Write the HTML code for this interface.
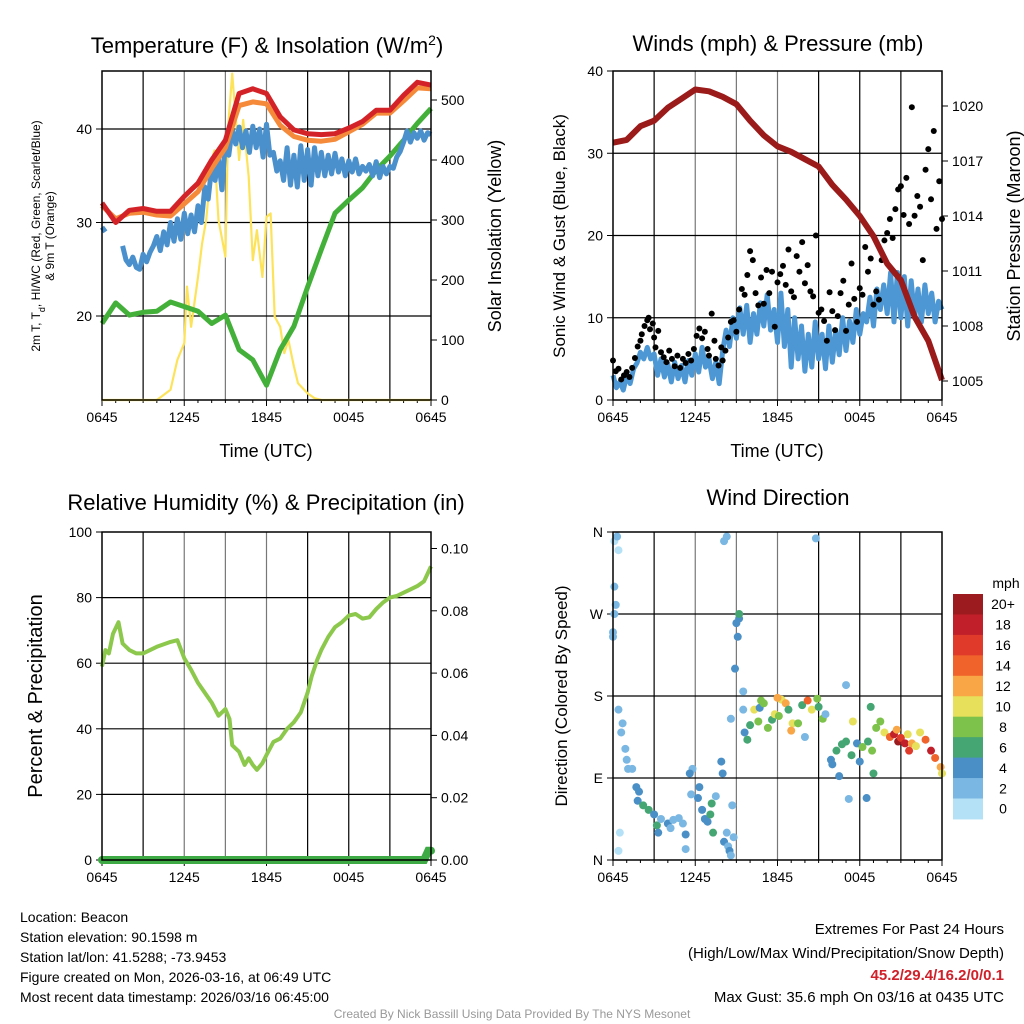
<!DOCTYPE html>
<html><head><meta charset="utf-8"><style>
html,body{margin:0;padding:0;background:#fff;}
svg{display:block;font-family:"Liberation Sans",Arial,sans-serif;}
</style></head><body>
<svg id="s" width="1024" height="1024" viewBox="0 0 1024 1024" xmlns="http://www.w3.org/2000/svg">
<text x="267" y="53" font-size="22" text-anchor="middle">Temperature (F) &amp; Insolation (W/m<tspan baseline-shift="super" font-size="14">2</tspan>)</text>
<text x="778" y="51" font-size="22" text-anchor="middle">Winds (mph) &amp; Pressure (mb)</text>
<text x="266" y="510" font-size="22" text-anchor="middle">Relative Humidity (%) &amp; Precipitation (in)</text>
<text x="778" y="505" font-size="22" text-anchor="middle">Wind Direction</text>
<text x="266" y="457" font-size="18" text-anchor="middle">Time (UTC)</text>
<text x="777" y="457" font-size="18" text-anchor="middle">Time (UTC)</text>
<text transform="translate(40,236) rotate(-90)" font-size="12" text-anchor="middle">2m T, T<tspan baseline-shift="sub" font-size="9">d</tspan>, HI/WC (Red, Green, Scarlet/Blue)</text>
<text transform="translate(54,236) rotate(-90)" font-size="12" text-anchor="middle">&amp; 9m T (Orange)</text>
<text transform="translate(501,236) rotate(-90)" font-size="18" text-anchor="middle">Solar Insolation (Yellow)</text>
<text transform="translate(565,236) rotate(-90)" font-size="17" text-anchor="middle">Sonic Wind &amp; Gust (Blue, Black)</text>
<text transform="translate(1020,236) rotate(-90)" font-size="18" text-anchor="middle">Station Pressure (Maroon)</text>
<text transform="translate(42,696) rotate(-90)" font-size="20" text-anchor="middle">Percent &amp; Precipitation</text>
<text transform="translate(567,696) rotate(-90)" font-size="17" text-anchor="middle">Direction (Colored By Speed)</text>
<g font-size="14">
<text x="20" y="922">Location: Beacon</text>
<text x="20" y="942">Station elevation: 90.1598 m</text>
<text x="20" y="962">Station lat/lon: 41.5288; -73.9453</text>
<text x="20" y="982">Figure created on Mon, 2026-03-16, at 06:49 UTC</text>
<text x="20" y="1002">Most recent data timestamp: 2026/03/16 06:45:00</text>
</g>
<g font-size="15" text-anchor="end">
<text x="1004" y="934">Extremes For Past 24 Hours</text>
<text x="1004" y="958">(High/Low/Max Wind/Precipitation/Snow Depth)</text>
<text x="1004" y="980" fill="#d0202a" font-weight="bold">45.2/29.4/16.2/0/0.1</text>
<text x="1004" y="1002">Max Gust: 35.6 mph On 03/16 at 0435 UTC</text>
</g>
<text x="512" y="1018" font-size="12" fill="#999" text-anchor="middle">Created By Nick Bassill Using Data Provided By The NYS Mesonet</text>
</svg>
<script>
// ---------- data ----------
const hours = [0,1,2,3,4,5,6,7,8,9,10,11,12,13,14,15,16,17,18,19,20,21,22,23,24];
const tempRed = [32.1,30,31.3,31.5,31.2,31.2,32.8,34.2,36.7,38.8,43.8,44.3,43.8,41.3,39.9,39.5,39.4,39.5,40.1,40.8,42,42,43.6,45,44.7];
const tempOrange = [31.8,30.4,31.0,31.1,30.8,30.7,32.0,33.3,35.8,38.0,42.5,42.9,42.7,40.4,39.2,38.8,38.7,38.9,39.7,40.5,41.7,41.7,43.0,44.4,44.3];
const dewGreen = [19.2,21.4,20.1,20.4,20.5,21.5,21.0,20.5,19.2,20.1,16.4,15.3,12.6,16.4,18.9,23.1,27.1,31.0,32.4,33.7,35.6,37.1,38.8,40.6,42.2];
const quarterHours = Array.from({length:97},(_,i)=>i/4);
const tempBlue = [29.5,29.0,null,null,null,null,27.5,26.0,25.5,26.3,25.2,25.0,26.6,25.8,26.8,27.5,28.5,27.0,29.0,27.6,30.0,28.0,30.4,28.2,31.0,28.8,30.8,29.0,31.8,30.0,33.8,32.5,36.0,34.5,37.0,33.5,38.5,37.2,40.0,38.4,40.2,38.0,39.8,37.5,40.3,38.0,40.0,37.0,40.5,37.2,37.5,35.5,36.6,34.5,38.0,34.0,37.2,33.8,38.2,34.5,37.8,34.0,38.0,35.0,37.5,35.0,37.2,35.2,37.4,35.4,36.8,35.0,36.6,35.4,36.8,35.2,36.0,35.5,36.2,35.0,36.5,34.8,36.0,35.2,36.0,35.8,37.0,37.6,38.6,39.8,38.6,39.6,39.0,39.8,38.8,39.6,39.4];
const solarTimes = [0,4,4.3,5,5.5,6,6.2,6.5,7,7.3,7.6,8,8.2,8.5,9,9.2,9.5,10,10.3,10.7,11,11.3,11.7,12,12.3,12.6,13,13.3,13.6,14,14.3,15,15.5,16,24];
const solarVals = [0,0,5,17,67,95,189,122,205,261,300,400,416,300,239,455,544,400,467,372,233,283,205,305,311,139,122,78,100,56,28,11,3,0,0];
const pressure = [1018.0,1018.15,1018.9,1019.2,1019.9,1020.4,1020.9,1020.8,1020.5,1020.1,1019.2,1018.4,1017.8,1017.5,1017.1,1016.7,1015.7,1014.9,1014.0,1012.9,1011.4,1010.5,1008.5,1007.2,1005.05];
const windSpeed = [3.0,1.5,2.2,1.2,3.0,2.0,3.8,4.5,5.8,5.0,6.4,5.0,5.6,3.0,5.0,2.8,4.4,2.2,4.6,2.6,4.2,2.2,4.8,3.0,5.6,3.4,6.4,4.0,5.0,2.6,4.6,2.0,6.0,8.5,6.5,10.0,7.5,11.2,8.0,11.5,7.0,10.5,8.0,11.8,9.0,12.8,8.5,11.0,7.0,13.0,6.5,11.0,4.0,10.0,5.0,9.0,3.5,8.0,4.0,9.5,5.0,8.0,3.8,9.0,4.6,8.5,5.5,10.0,6.0,9.6,7.0,11.0,8.0,10.5,9.5,12.5,9.0,13.5,11.0,14.0,10.5,15.5,9.5,15.5,10.0,15.0,9.0,14.5,10.0,13.5,9.5,14.0,10.5,13.0,9.5,12.0,11.0];
const gustTimes = [0,0.2,0.4,0.6,0.8,1.0,1.2,1.4,1.6,1.8,2.0,2.1,2.3,2.5,2.6,2.7,2.9,3.0,3.1,3.3,3.5,3.7,3.9,4.1,4.3,4.5,4.7,4.9,5.1,5.3,5.5,5.7,5.9,6.1,6.3,6.5,6.7,6.9,7.0,7.2,7.4,7.5,7.7,7.9,8.0,8.2,8.4,8.6,8.8,9.0,9.2,9.4,9.6,9.8,10.0,10.2,10.4,10.6,10.8,11.0,11.2,11.4,11.6,11.8,12.0,12.2,12.4,12.6,12.8,13.0,13.2,13.4,13.6,13.8,14.0,14.2,14.4,14.6,14.8,15.0,15.2,15.4,15.6,15.8,16.0,16.2,16.4,16.6,16.8,17.0,17.2,17.4,17.6,17.8,18.0,18.2,18.4,18.6,18.8,19.0,19.2,19.4,19.6,19.8,20.0,20.2,20.4,20.6,20.8,21.0,21.2,21.4,21.6,21.8,22.0,22.2,22.4,22.6,22.8,23.0,23.2,23.4,23.6,23.8,24.0];
const gustVals = [4.8,3.5,3.8,2.5,3.0,3.4,2.8,3.9,5.1,6.5,7.2,8.0,9.0,9.7,10.0,8.6,9.3,7.6,6.4,8.4,5.8,5.2,4.6,6.0,5.0,4.1,5.4,3.9,5.0,4.5,5.6,4.8,6.2,7.8,8.7,7.5,8.3,6.2,5.4,10.5,7.2,5.0,4.2,6.4,4.8,6.0,7.6,9.5,9.7,8.3,11.0,13.5,12.8,15.2,18.1,17.0,13.0,11.5,14.9,11.7,15.8,13.0,15.6,8.9,14.3,15.3,16.3,14.0,18.3,13.2,12.5,17.5,15.6,19.2,14.2,16.4,13.2,12.6,20.0,10.6,11.0,9.6,7.2,13.1,10.8,8.5,10.2,13.0,14.5,8.4,11.6,16.6,12.3,9.5,13.6,12.8,18.6,15.6,17.2,11.6,13.2,12.2,17.0,19.4,20.3,22.0,19.7,23.2,25.6,26.0,22.5,27.0,21.4,35.6,22.4,24.8,23.5,17.0,28.0,30.5,24.4,32.7,20.8,26.6,22.0];
const dirTimes = [0.1,0.3,0.4,0.1,0.2,0.1,0.0,0.0,0.4,0.7,0.6,0.9,1.0,1.1,1.4,1.7,1.9,1.8,2.2,2.6,3.0,3.2,3.5,3.3,4.0,4.2,4.4,4.8,5.1,5.3,5.3,0.5,0.4,5.7,5.8,5.6,6.2,6.5,6.3,6.7,6.9,7.1,7.2,7.3,7.5,7.9,8.0,8.3,8.1,8.4,8.5,8.6,8.8,8.7,8.1,8.3,9.0,9.2,9.1,9.2,8.9,8.6,9.5,9.6,9.8,10.0,10.3,10.7,11.0,10.6,11.3,11.6,11.8,12.1,12.3,12.6,12.8,13.1,13.5,13.8,14.2,14.5,14.9,15.0,15.3,14.0,15.5,15.9,16.3,16.7,16.0,16.5,17.0,17.4,17.8,18.0,18.2,18.6,18.9,19.2,19.5,19.8,20.2,20.5,20.8,21.0,21.3,21.6,21.8,22.1,22.4,22.8,23.2,23.5,23.9,24.0,17.2,18.5,17.5,20.7,21.5,19.0,18.8,13.0,12.0,10.8,14.8,9.5,17.0];
const dirDeg = [350,355,340,300,280,270,250,245,165,150,140,122,110,100,100,80,75,65,60,55,50,38,45,30,40,35,44,46,40,28,12,30,10,72,100,95,68,55,80,45,42,50,62,30,70,108,95,30,20,15,10,5,25,60,350,355,260,265,245,270,210,155,165,140,132,148,165,167,172,152,145,154,160,158,176,172,165,150,150,170,175,165,177,168,155,135,160,110,120,127,105,92,130,115,128,108,124,130,120,145,152,140,135,138,130,134,128,120,128,125,140,132,120,112,102,95,67,68,152,143,138,95,168,142,178,175,353,185,192];
const dirSpeed = [1,2,0,2,2,2,3,2,2,2,2,2,2,2,2,4,4,4,6,6,4,6,2,4,4,2,2,2,2,4,2,0,0,2,2,4,4,4,4,4,4,6,6,6,2,4,4,2,4,2,4,2,2,2,2,2,4,4,4,6,4,2,2,4,6,6,10,4,8,8,8,6,10,8,10,12,6,10,8,6,14,10,8,6,8,2,2,4,6,6,4,4,6,6,4,4,8,6,8,8,8,10,14,18,20,16,18,16,12,10,10,14,18,14,12,10,2,4,10,12,10,6,6,12,12,8,2,2,2];
const rhTimes = [0,0.25,0.5,0.8,1.2,1.5,2,2.5,3,4,5,5.5,6,6.5,7,7.5,8,8.5,9,9.3,9.5,10,10.4,10.7,11,11.3,11.7,12,12.5,13,13.5,14,14.5,15,15.3,15.7,16,16.5,17,17.5,18,18.5,19,19.5,20,20.5,21,21.5,22,22.5,23,23.5,24];
const rhVals = [59,64,63,69,72.5,66,64,63,63,65,66.5,67,61.5,58,54,51,48,44,46,43,35,33,29,31,29,27.5,29.5,32,36,37,40,42,45,51,56,61,64,68,71,72.5,74.5,75,73.6,74,76.5,78.5,80,80.5,81.5,82.5,83.5,85,89.5];
const precipTimes = [0,23.5,23.8,24];
const precipVals = [0,0,0.003,0.003];
const xTickLabels = ["0645","1245","1845","0045","0645"];
const tempTicks = [20,30,40];
const solarTicks = [0,100,200,300,400,500];
const windTicks = [0,10,20,30,40];
const presTicks = [1005,1008,1011,1014,1017,1020];
const rhTicks = [0,20,40,60,80,100];
const precipTicks = [0,0.02,0.04,0.06,0.08,0.10];
const dirTicks = [0,90,180,270,360];
const dirLabels = ["N","E","S","W","N"];
const speedBins = ["0","2","4","6","8","10","12","14","16","18","20+"];
const binColors = ["#b5e1f7","#7ab7e2","#4a8fc6","#46a673","#7dc24a","#e6e05a","#f8a646","#f0642b","#e03a2b","#c1202b","#9b1b1e"];

// ---------- helpers ----------
const svg = document.getElementById('s');
const NS = 'http://www.w3.org/2000/svg';
function mk(tag, attrs, parent){const e=document.createElementNS(NS,tag);for(const k in attrs)e.setAttribute(k,attrs[k]);(parent||svg).appendChild(e);return e;}
function lin(d0,d1,r0,r1){return v=>r0+(v-d0)*(r1-r0)/(d1-d0);}
function pathFrom(xs,ys,fx,fy){let d='',pen=false;for(let i=0;i<xs.length;i++){if(ys[i]===null){pen=false;continue;}d+=(pen?'L':'M')+fx(xs[i]).toFixed(1)+','+fy(ys[i]).toFixed(1);pen=true;}return d;}

function panel(name,L,T,R,B,hLines){
  const g=mk('g',{});
  
  
  const fx=lin(0,24,L,R);
  for(let h=3;h<24;h+=3){const l=mk('line',{x1:fx(h),x2:fx(h),y1:T,y2:B,stroke:((h>=6&&h<=12)?'#777':'#000'),'stroke-width':1.2},g);
    
    }
  hLines.forEach(y=>{const l=mk('line',{x1:L,x2:R,y1:y,y2:y,stroke:'#000','stroke-width':1.2},g);
    
    });
  xTickLabels.forEach((t,i)=>{const x=fx(i*6);
    mk('line',{x1:x,x2:x,y1:B,y2:B+6,stroke:'#000'},g);
    const tx=mk('text',{x:x,y:B+22,'font-size':14,'text-anchor':'middle'},g);tx.textContent=t;
    
    });
  for(let h=1;h<24;h++){if(h%6)mk('line',{x1:fx(h),x2:fx(h),y1:B,y2:B+3,stroke:'#000'},g);}
  return {g,fx};
}
function yTicks(g,ticks,fy,x,side,fmt,size){
  ticks.forEach(v=>{const y=fy(v);
    mk('line',{x1:x,x2:x+(side<0?-6:6),y1:y,y2:y,stroke:'#000'},g);
    const t=mk('text',{x:x+(side<0?-10:10),y:y+5,'font-size':size||14,'text-anchor':side<0?'end':'start'},g);t.textContent=fmt?fmt(v):v;
    
    });
}
function frame(g,L,T,R,B){const r=mk('rect',{x:L,y:T,width:R-L,height:B-T,fill:'none',stroke:'#000','stroke-width':1.5},g);
  
  }

// ---------- Panel 1: temperature ----------
{
  const L=102,T=71,R=431,B=400;
  const fy=lin(20,40,316,129), fs=lin(0,500,400,100);
  const {g,fx}=panel('temperature',L,T,R,B,[fy(20),fy(30),fy(40)]);
  yTicks(g,tempTicks,fy,L,-1);
  yTicks(g,solarTicks,fs,R,1);
  const ps=mk('path',{d:pathFrom(solarTimes,solarVals,fx,fs),fill:'none',stroke:'#fde35a','stroke-width':2.2,'stroke-linejoin':'round'},g);
  
  
  const pg=mk('path',{d:pathFrom(hours,dewGreen,fx,fy),fill:'none',stroke:'#43b03a','stroke-width':5,'stroke-linejoin':'round'},g);
  
  
  const pb=mk('path',{d:pathFrom(quarterHours,tempBlue,fx,fy),fill:'none',stroke:'#4a90cc','stroke-width':5,'stroke-linejoin':'round'},g);
  
  
  const po=mk('path',{d:pathFrom(hours,tempOrange,fx,fy),fill:'none',stroke:'#f58a3a','stroke-width':5,'stroke-linejoin':'round'},g);
  
  
  const pr=mk('path',{d:pathFrom(hours,tempRed,fx,fy),fill:'none',stroke:'#d42328','stroke-width':5,'stroke-linejoin':'round'},g);
  
  
  frame(g,L,T,R,B);
}
// ---------- Panel 2: winds ----------
{
  const L=613,T=71,R=942,B=400;
  const fy=lin(0,40,400,71), fp=lin(1005,1020,381,106);
  const {g,fx}=panel('winds',L,T,R,B,[fy(10),fy(20),fy(30)]);
  yTicks(g,windTicks,fy,L,-1);
  yTicks(g,presTicks,fp,R,1);
  const pw=mk('path',{d:pathFrom(quarterHours,windSpeed,fx,fy),fill:'none',stroke:'#4d98d4','stroke-width':5,'stroke-linejoin':'round'},g);
  
  
  for(let i=0;i<gustTimes.length;i++){
    const c=mk('circle',{cx:fx(gustTimes[i]),cy:fy(gustVals[i]),r:3,fill:'#000'},g);
    
    
  }
  const pp=mk('path',{d:pathFrom(hours,pressure,fx,fp),fill:'none',stroke:'#9b1a1a','stroke-width':6,'stroke-linejoin':'round'},g);
  
  
  frame(g,L,T,R,B);
}
// ---------- Panel 3: RH ----------
{
  const L=102,T=532,R=431,B=860;
  const fy=lin(0,100,860,532), fq=lin(0,0.1,860,548.5);
  const {g,fx}=panel('humidity',L,T,R,B,[fy(20),fy(40),fy(60),fy(80)]);
  yTicks(g,rhTicks,fy,L,-1);
  yTicks(g,precipTicks,fq,R,1,v=>v.toFixed(2));
  const ph=mk('path',{d:pathFrom(rhTimes,rhVals,fx,fy),fill:'none',stroke:'#8cc84b','stroke-width':4,'stroke-linejoin':'round'},g);
  
  
  const pq=mk('path',{d:pathFrom(precipTimes,precipVals,fx,fq),fill:'none',stroke:'#3daa45','stroke-width':8,'stroke-linecap':'round'},g);
  
  
  frame(g,L,T,R,B);
}
// ---------- Panel 4: wind direction ----------
{
  const L=613,T=532,R=942,B=860;
  const fy=lin(0,360,860,532);
  const {g,fx}=panel('wind-direction',L,T,R,B,[fy(90),fy(180),fy(270)]);
  yTicks(g,dirTicks,fy,L,-1,v=>dirLabels[dirTicks.indexOf(v)]);
  for(let i=0;i<dirTimes.length;i++){
    const b=Math.min(10,Math.floor(dirSpeed[i]/2));
    const c=mk('circle',{cx:fx(dirTimes[i]),cy:fy(dirDeg[i]),r:4,fill:binColors[b]},g);
    
    
  }
  frame(g,L,T,R,B);
  const lg=mk('g',{});
  
  
  const mph=mk('text',{x:1006,y:588,'font-size':14,'text-anchor':'middle'},lg);mph.textContent='mph';
  
  
  const h=20.45;
  for(let k=0;k<speedBins.length;k++){
    const idx=10-k, y=594+k*h;
    const r=mk('rect',{x:953,y:y,width:30,height:h+0.5,fill:binColors[idx]},lg);
    
    
    const t=mk('text',{x:1003,y:y+h/2+5,'font-size':14,'text-anchor':'middle'},lg);t.textContent=speedBins[idx];
    
    
  }
}
</script>
</body></html>
